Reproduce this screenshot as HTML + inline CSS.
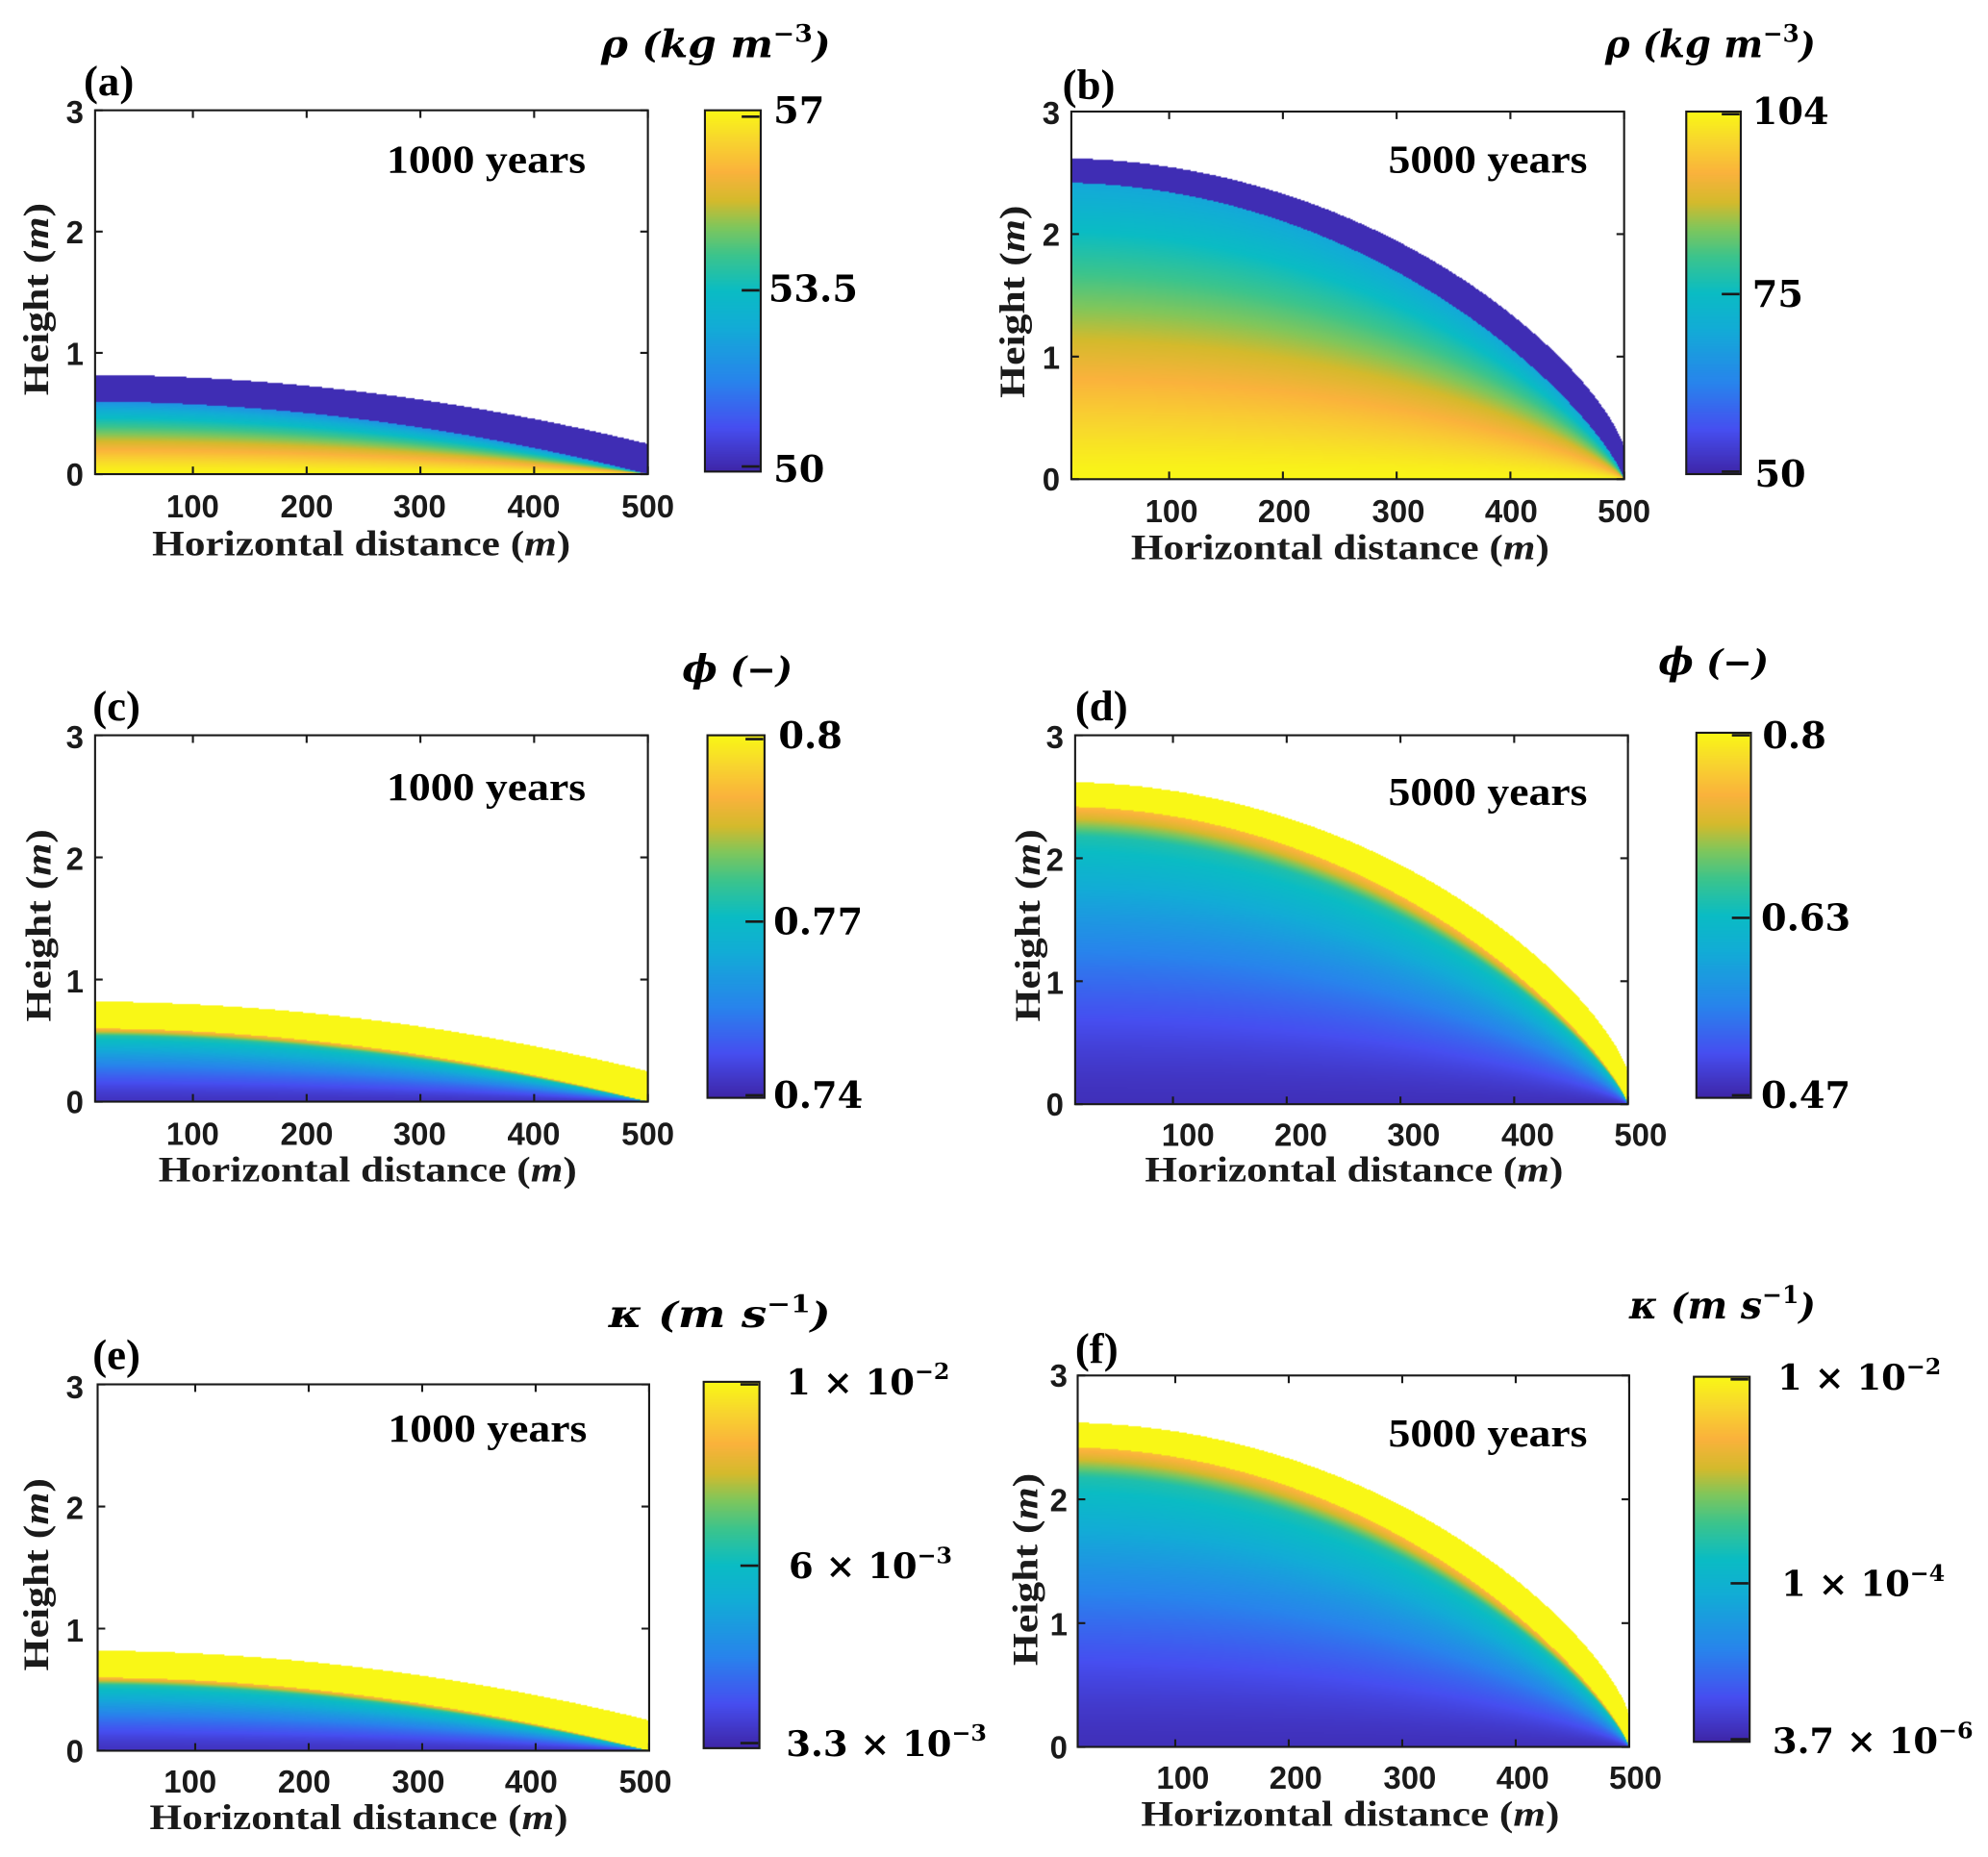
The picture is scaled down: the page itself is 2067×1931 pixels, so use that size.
<!DOCTYPE html>
<html><head><meta charset="utf-8">
<style>
html,body{margin:0;padding:0;background:#fff;}
#root{position:absolute;left:0;top:0;width:1568px;height:1465px;transform:scale(1.31824);transform-origin:0 0;overflow:hidden;background:#fff;}
canvas{position:absolute;}
svg{position:absolute;left:0;top:0;}
.tk{font-family:"Liberation Sans Narrow","Liberation Sans",sans-serif;font-weight:bold;font-size:25px;fill:#1a1a1a;}
.ax{font-family:"Liberation Serif",serif;font-weight:bold;font-size:28px;fill:#1a1a1a;}
.pl{font-family:"Liberation Serif",serif;font-weight:bold;font-size:34px;fill:#000;}
.yr{font-family:"Liberation Serif",serif;font-weight:bold;font-size:31px;fill:#000;}
.cb{font-family:"DejaVu Serif","Liberation Serif",serif;font-weight:bold;font-size:29px;fill:#000;}
.cbt{font-family:"DejaVu Serif","Liberation Serif",serif;font-weight:bold;font-style:italic;font-size:30px;fill:#000;}
.cbs{font-family:"DejaVu Serif","Liberation Serif",serif;font-size:28px;fill:#000;}
</style></head><body>
<div id="root">
<canvas id="pa" style="left:75px;top:87px" width="436" height="287"></canvas>
<canvas id="pb" style="left:845px;top:88px" width="436" height="290"></canvas>
<canvas id="pc" style="left:75px;top:580px" width="436" height="289"></canvas>
<canvas id="pd" style="left:848px;top:580px" width="436" height="291"></canvas>
<canvas id="pe" style="left:77px;top:1092px" width="435" height="289"></canvas>
<canvas id="pf" style="left:850px;top:1085px" width="435" height="293"></canvas>
<canvas id="ca" style="left:556px;top:87px" width="44" height="285"></canvas>
<canvas id="cb" style="left:1330px;top:88px" width="43" height="286"></canvas>
<canvas id="cc" style="left:558px;top:580px" width="45" height="286"></canvas>
<canvas id="cd" style="left:1338px;top:578px" width="43" height="288"></canvas>
<canvas id="ce" style="left:555px;top:1090px" width="44" height="289"></canvas>
<canvas id="cf" style="left:1336px;top:1086px" width="44" height="288"></canvas>
<svg width="1568" height="1465" viewBox="0 0 1568 1465" id="ov">
<g id="frames" fill="none" stroke="#1a1a1a" stroke-width="1.6"></g>
<!-- Panel a -->
<text class="pl" x="66" y="75">(a)</text>
<text class="yr" x="305" y="136" textLength="157" lengthAdjust="spacingAndGlyphs">1000 years</text>
<text class="tk" x="152" y="408" text-anchor="middle">100</text><text class="tk" x="242" y="408" text-anchor="middle">200</text><text class="tk" x="331" y="408" text-anchor="middle">300</text><text class="tk" x="421" y="408" text-anchor="middle">400</text><text class="tk" x="511" y="408" text-anchor="middle">500</text>
<text class="tk" x="66" y="383" text-anchor="end">0</text><text class="tk" x="66" y="288" text-anchor="end">1</text><text class="tk" x="66" y="192" text-anchor="end">2</text><text class="tk" x="66" y="97" text-anchor="end">3</text>
<text class="ax" x="120" y="438" textLength="330" lengthAdjust="spacingAndGlyphs">Horizontal distance (<tspan font-style="italic">m</tspan>)</text>
<text class="ax" transform="translate(38,312) rotate(-90)" textLength="152" lengthAdjust="spacingAndGlyphs">Height (<tspan font-style="italic">m</tspan>)</text>
<text class="cb" x="610" y="97">57</text><text class="cb" x="606" y="238">53.5</text><text class="cb" x="610" y="380">50</text>
<text class="cbt" x="474" y="45" textLength="181" lengthAdjust="spacingAndGlyphs">ρ <tspan class="cbs">(</tspan>kg m<tspan font-size="19" dy="-12" font-style="normal">−3</tspan><tspan class="cbs" dy="12">)</tspan></text>
<!-- Panel b -->
<text class="pl" x="838" y="78">(b)</text>
<text class="yr" x="1095" y="136" textLength="157" lengthAdjust="spacingAndGlyphs">5000 years</text>
<text class="tk" x="924" y="412" text-anchor="middle">100</text><text class="tk" x="1013" y="412" text-anchor="middle">200</text><text class="tk" x="1103" y="412" text-anchor="middle">300</text><text class="tk" x="1192" y="412" text-anchor="middle">400</text><text class="tk" x="1281" y="412" text-anchor="middle">500</text>
<text class="tk" x="836" y="387" text-anchor="end">0</text><text class="tk" x="836" y="291" text-anchor="end">1</text><text class="tk" x="836" y="194" text-anchor="end">2</text><text class="tk" x="836" y="98" text-anchor="end">3</text>
<text class="ax" x="892" y="441" textLength="330" lengthAdjust="spacingAndGlyphs">Horizontal distance (<tspan font-style="italic">m</tspan>)</text>
<text class="ax" transform="translate(808,314) rotate(-90)" textLength="152" lengthAdjust="spacingAndGlyphs">Height (<tspan font-style="italic">m</tspan>)</text>
<text class="cb" x="1382" y="98">104</text><text class="cb" x="1382" y="242">75</text><text class="cb" x="1384" y="384">50</text>
<text class="cbt" x="1266" y="45" textLength="166" lengthAdjust="spacingAndGlyphs">ρ <tspan class="cbs">(</tspan>kg m<tspan font-size="19" dy="-12" font-style="normal">−3</tspan><tspan class="cbs" dy="12">)</tspan></text>
<!-- Panel c -->
<text class="pl" x="73" y="568">(c)</text>
<text class="yr" x="305" y="631" textLength="157" lengthAdjust="spacingAndGlyphs">1000 years</text>
<text class="tk" x="152" y="903" text-anchor="middle">100</text><text class="tk" x="242" y="903" text-anchor="middle">200</text><text class="tk" x="331" y="903" text-anchor="middle">300</text><text class="tk" x="421" y="903" text-anchor="middle">400</text><text class="tk" x="511" y="903" text-anchor="middle">500</text>
<text class="tk" x="66" y="878" text-anchor="end">0</text><text class="tk" x="66" y="783" text-anchor="end">1</text><text class="tk" x="66" y="686" text-anchor="end">2</text><text class="tk" x="66" y="590" text-anchor="end">3</text>
<text class="ax" x="125" y="932" textLength="330" lengthAdjust="spacingAndGlyphs">Horizontal distance (<tspan font-style="italic">m</tspan>)</text>
<text class="ax" transform="translate(40,806) rotate(-90)" textLength="152" lengthAdjust="spacingAndGlyphs">Height (<tspan font-style="italic">m</tspan>)</text>
<text class="cb" x="614" y="590">0.8</text><text class="cb" x="610" y="737">0.77</text><text class="cb" x="610" y="874">0.74</text>
<text class="cbt" x="538" y="538" textLength="87" lengthAdjust="spacingAndGlyphs">ϕ <tspan class="cbs">(−)</tspan></text>
<!-- Panel d -->
<text class="pl" x="848" y="568">(d)</text>
<text class="yr" x="1095" y="635" textLength="157" lengthAdjust="spacingAndGlyphs">5000 years</text>
<text class="tk" x="937" y="904" text-anchor="middle">100</text><text class="tk" x="1026" y="904" text-anchor="middle">200</text><text class="tk" x="1115" y="904" text-anchor="middle">300</text><text class="tk" x="1205" y="904" text-anchor="middle">400</text><text class="tk" x="1294" y="904" text-anchor="middle">500</text>
<text class="tk" x="839" y="880" text-anchor="end">0</text><text class="tk" x="839" y="784" text-anchor="end">1</text><text class="tk" x="839" y="687" text-anchor="end">2</text><text class="tk" x="839" y="590" text-anchor="end">3</text>
<text class="ax" x="903" y="932" textLength="330" lengthAdjust="spacingAndGlyphs">Horizontal distance (<tspan font-style="italic">m</tspan>)</text>
<text class="ax" transform="translate(820,806) rotate(-90)" textLength="152" lengthAdjust="spacingAndGlyphs">Height (<tspan font-style="italic">m</tspan>)</text>
<text class="cb" x="1390" y="590">0.8</text><text class="cb" x="1389" y="734">0.63</text><text class="cb" x="1389" y="874">0.47</text>
<text class="cbt" x="1308" y="532" textLength="87" lengthAdjust="spacingAndGlyphs">ϕ <tspan class="cbs">(−)</tspan></text>
<!-- Panel e -->
<text class="pl" x="73" y="1080">(e)</text>
<text class="yr" x="306" y="1137" textLength="157" lengthAdjust="spacingAndGlyphs">1000 years</text>
<text class="tk" x="150" y="1414" text-anchor="middle">100</text><text class="tk" x="240" y="1414" text-anchor="middle">200</text><text class="tk" x="330" y="1414" text-anchor="middle">300</text><text class="tk" x="419" y="1414" text-anchor="middle">400</text><text class="tk" x="509" y="1414" text-anchor="middle">500</text>
<text class="tk" x="66" y="1390" text-anchor="end">0</text><text class="tk" x="66" y="1295" text-anchor="end">1</text><text class="tk" x="66" y="1198" text-anchor="end">2</text><text class="tk" x="66" y="1103" text-anchor="end">3</text>
<text class="ax" x="118" y="1443" textLength="330" lengthAdjust="spacingAndGlyphs">Horizontal distance (<tspan font-style="italic">m</tspan>)</text>
<text class="ax" transform="translate(38,1318) rotate(-90)" textLength="152" lengthAdjust="spacingAndGlyphs">Height (<tspan font-style="italic">m</tspan>)</text>
<text class="cbs" font-weight="bold" x="620" y="1100">1 × 10<tspan font-size="18" dy="-12">−2</tspan></text>
<text class="cbs" font-weight="bold" x="622" y="1245">6 × 10<tspan font-size="18" dy="-12">−3</tspan></text>
<text class="cbs" font-weight="bold" x="620" y="1385">3.3 × 10<tspan font-size="18" dy="-12">−3</tspan></text>
<text class="cbt" x="480" y="1047" textLength="175" lengthAdjust="spacingAndGlyphs">κ <tspan class="cbs">(</tspan>m s<tspan font-size="19" dy="-12" font-style="normal">−1</tspan><tspan class="cbs" dy="12">)</tspan></text>
<!-- Panel f -->
<text class="pl" x="848" y="1075">(f)</text>
<text class="yr" x="1095" y="1141" textLength="157" lengthAdjust="spacingAndGlyphs">5000 years</text>
<text class="tk" x="933" y="1411" text-anchor="middle">100</text><text class="tk" x="1022" y="1411" text-anchor="middle">200</text><text class="tk" x="1112" y="1411" text-anchor="middle">300</text><text class="tk" x="1201" y="1411" text-anchor="middle">400</text><text class="tk" x="1290" y="1411" text-anchor="middle">500</text>
<text class="tk" x="842" y="1387" text-anchor="end">0</text><text class="tk" x="842" y="1290" text-anchor="end">1</text><text class="tk" x="842" y="1192" text-anchor="end">2</text><text class="tk" x="842" y="1094" text-anchor="end">3</text>
<text class="ax" x="900" y="1440" textLength="330" lengthAdjust="spacingAndGlyphs">Horizontal distance (<tspan font-style="italic">m</tspan>)</text>
<text class="ax" transform="translate(818,1314) rotate(-90)" textLength="152" lengthAdjust="spacingAndGlyphs">Height (<tspan font-style="italic">m</tspan>)</text>
<text class="cbs" font-weight="bold" x="1402" y="1096">1 × 10<tspan font-size="18" dy="-12">−2</tspan></text>
<text class="cbs" font-weight="bold" x="1405" y="1259">1 × 10<tspan font-size="18" dy="-12">−4</tspan></text>
<text class="cbs" font-weight="bold" x="1398" y="1383">3.7 × 10<tspan font-size="18" dy="-12">−6</tspan></text>
<text class="cbt" x="1285" y="1040" textLength="147" lengthAdjust="spacingAndGlyphs">κ <tspan class="cbs">(</tspan>m s<tspan font-size="19" dy="-12" font-style="normal">−1</tspan><tspan class="cbs" dy="12">)</tspan></text>
</svg>
</div>
<script>
var stops=[[0,[62,38,168]],[0.12,[70,78,240]],[0.25,[40,132,236]],[0.4,[18,172,214]],[0.5,[10,188,196]],[0.6,[60,196,140]],[0.68,[130,198,90]],[0.75,[212,186,44]],[0.83,[250,178,60]],[0.92,[248,214,46]],[1,[249,247,22]]];
function cmap(v){v=Math.max(0,Math.min(1,v));for(var i=1;i<stops.length;i++){if(v<=stops[i][0]){var a=stops[i-1],b=stops[i],t=(v-a[0])/(b[0]-a[0]);return [a[1][0]+t*(b[1][0]-a[1][0]),a[1][1]+t*(b[1][1]-a[1][1]),a[1][2]+t*(b[1][2]-a[1][2])];}}return stops[stops.length-1][1];}
function tA(x){var u=x/500;return 0.82-0.57*u*u;}
function iA(x){var u=x/500;return 0.6*(1-u*u);}
function tB(x){var u=x/500;return 0.25+2.37*Math.pow(Math.max(0,1-u*u),0.75);}
function iB(x){var u=x/500;return 2.42*Math.pow(Math.max(0,1-u*u),0.8);}
var fields={
 a:function(x,h){if(h>tA(x))return null;var hi=iA(x);if(h>hi)return 0.02;var r=h/hi;return 1-0.7*Math.pow(r,1.3);},
 b:function(x,h){if(h>tB(x))return null;var hi=iB(x);if(h>hi)return 0.02;var r=h/hi;return 1-0.62*Math.pow(r,1.2);},
 c:function(x,h){if(h>tA(x))return null;var hi=iA(x);if(h>hi)return 1;var r=h/hi;var v=0.04+0.6*Math.pow(r,1.5);if(r>0.9){var t=(r-0.9)/0.1;v=v+(0.86-v)*t;}return v;},
 d:function(x,h){if(h>tB(x))return null;var hi=iB(x);if(h>hi)return 1;var r=h/hi;var v=0.03+0.6*Math.pow(r,1.5);if(r>0.9){var t=(r-0.9)/0.1;v=v+(0.86-v)*t;}return v;}
};
function drawPanel(id,f){var c=document.getElementById(id),g=c.getContext('2d'),W=c.width,H=c.height,im=g.createImageData(W,H);
 for(var py=0;py<H;py++){var h=3*(H-py-0.5)/H;for(var px=0;px<W;px++){var x=14+486*(px+0.5)/W;var v=f(x,h);var k=(py*W+px)*4;
 if(v===null){im.data[k]=255;im.data[k+1]=255;im.data[k+2]=255;}else{var col=cmap(v);im.data[k]=col[0];im.data[k+1]=col[1];im.data[k+2]=col[2];}im.data[k+3]=255;}}
 g.putImageData(im,0,0);}
drawPanel('pa',fields.a);drawPanel('pb',fields.b);drawPanel('pc',fields.c);drawPanel('pd',fields.d);drawPanel('pe',fields.c);drawPanel('pf',fields.d);
['ca','cb','cc','cd','ce','cf'].forEach(function(id){var c=document.getElementById(id),g=c.getContext('2d');for(var y=0;y<c.height;y++){var col=cmap(1-y/(c.height-1));g.fillStyle='rgb('+col.map(Math.round).join(',')+')';g.fillRect(0,y,c.width,1);}});
var P=[[75,87,511,374],[845,88,1281,378],[75,580,511,869],[848,580,1284,871],[77,1092,512,1381],[850,1085,1285,1378]];
var C=[[556,87,600,372,[92,229,368]],[1330,88,1373,374,[90,232,372]],[558,580,603,866,[583,727,864]],[1338,578,1381,866,[580,724,864]],[555,1090,599,1379,[1092,1235,1375]],[1336,1086,1380,1374,[1088,1249,1372]]];
var s='';
P.forEach(function(p){var L=p[0],T=p[1],R=p[2],B=p[3];s+='<rect x="'+L+'" y="'+T+'" width="'+(R-L)+'" height="'+(B-T)+'"/>';
 for(var d=100;d<=500;d+=100){var x=L+(d-14)/486*(R-L);s+='<path d="M'+x+' '+B+'v-6M'+x+' '+T+'v6"/>';}
 for(var k=0;k<=3;k++){var y=B-k/3*(B-T);s+='<path d="M'+L+' '+y+'h6M'+R+' '+y+'h-6"/>';}});
C.forEach(function(c){s+='<rect x="'+c[0]+'" y="'+c[1]+'" width="'+(c[2]-c[0])+'" height="'+(c[3]-c[1])+'"/>';
 c[4].forEach(function(y){s+='<path d="M'+(c[2]-15)+' '+y+'h14" stroke-width="2"/>';});});
document.getElementById('frames').innerHTML=s;
</script>
</body></html>
